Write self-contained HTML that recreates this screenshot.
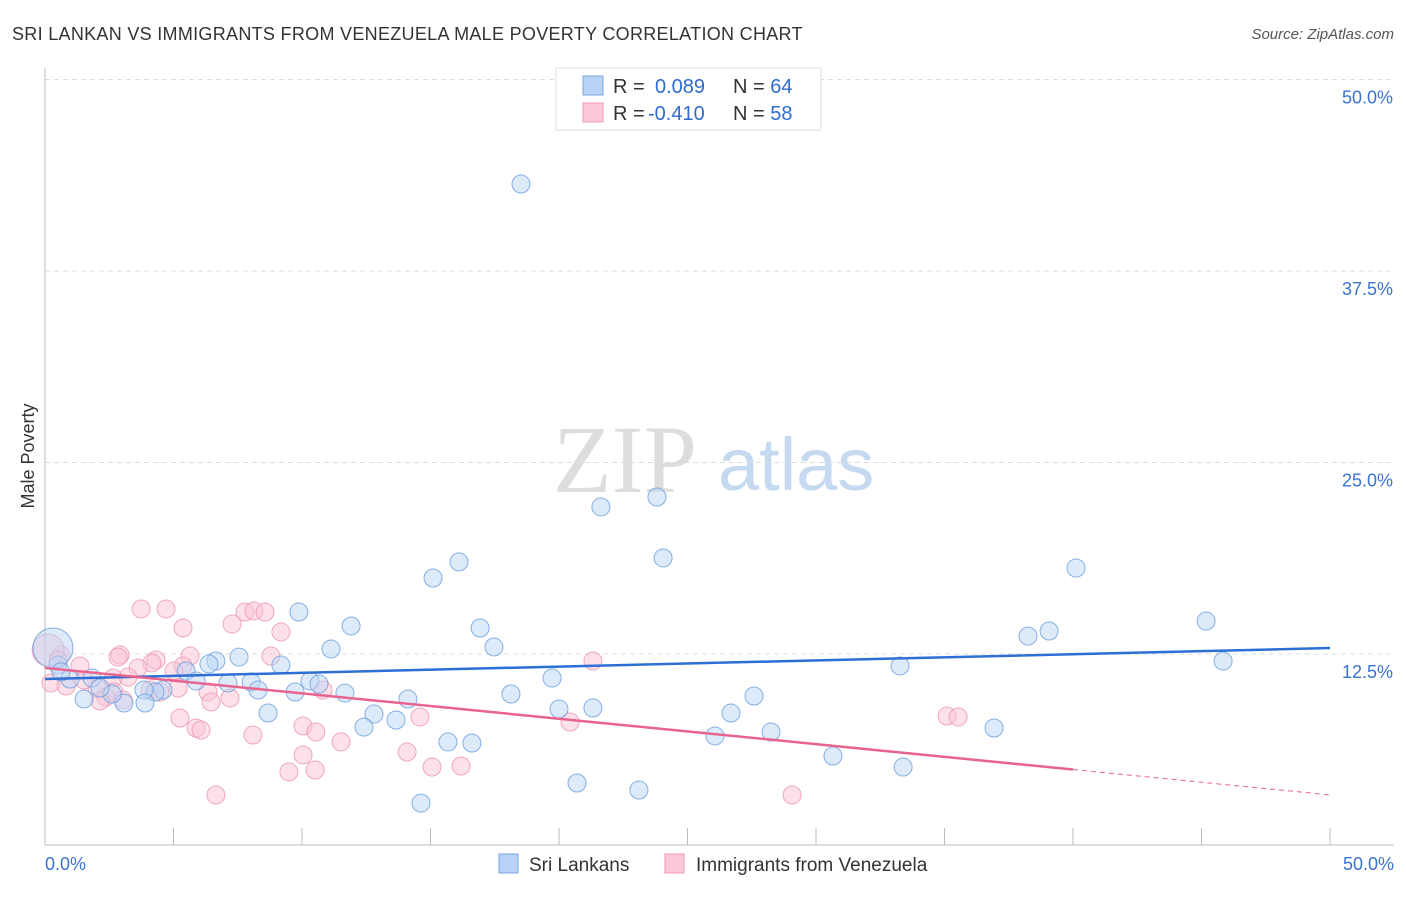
<!DOCTYPE html>
<html><head><meta charset="utf-8"><style>
body{margin:0;background:#fff;font-family:"Liberation Sans",sans-serif}
svg text{font-family:"Liberation Sans",sans-serif}
</style></head><body>
<svg width="1406" height="892" xmlns="http://www.w3.org/2000/svg">
<text x="12" y="40" font-size="18" fill="#333" letter-spacing="0.3">SRI LANKAN VS IMMIGRANTS FROM VENEZUELA MALE POVERTY CORRELATION CHART</text>
<text x="1394" y="39" font-size="15" fill="#555" font-style="italic" text-anchor="end">Source: ZipAtlas.com</text>
<text x="34" y="456" font-size="18" fill="#333" text-anchor="middle" transform="rotate(-90 34 456)">Male Poverty</text>
<g>
<text x="553" y="492" font-size="96" fill="#ddd" font-family="Liberation Serif" style="font-family:'Liberation Serif',serif">ZIP</text>
<text x="718" y="490" font-size="74" fill="#c5d9f1">atlas</text>
</g>
<g id="grid"></g><g id="axes"></g><g id="pts"></g><g id="lines"></g>
<g>
<rect x="556" y="68" width="265" height="62" fill="#fff" stroke="#ddd"/>
<rect x="583" y="76" width="20" height="19" fill="#b8d3f5" stroke="#7aa7e0"/>
<rect x="583" y="103" width="20" height="19" fill="#fcc9d8" stroke="#f09ab5"/>
<text x="613" y="93" font-size="20" fill="#333">R = <tspan fill="#2f6bd0" x="655">0.089</tspan><tspan x="733" fill="#333">N = </tspan><tspan fill="#2f6bd0">64</tspan></text>
<text x="613" y="120" font-size="20" fill="#333">R = <tspan fill="#2f6bd0" x="648">-0.410</tspan><tspan x="733" fill="#333">N = </tspan><tspan fill="#2f6bd0">58</tspan></text>
</g>
<g>
<rect x="499" y="854" width="19" height="19" fill="#b8d3f5" stroke="#7aa7e0"/>
<text x="529" y="871" font-size="19" fill="#333">Sri Lankans</text>
<rect x="665" y="854" width="19" height="19" fill="#fcc9d8" stroke="#f09ab5"/>
<text x="696" y="871" font-size="19" fill="#333">Immigrants from Venezuela</text>
</g>
</svg>
<script>
const yTicks=[12.5,25,37.5,50];
const yTickLabels=["12.5%","25.0%","37.5%","50.0%"];
const xTicks=[0,5,10,15,20,25,30,35,40,45,50];
const blueX=[18.52,21.63,23.81,24.05,16.11,15.10,40.12,45.18,45.84,39.07,38.25,9.88,11.91,16.93,17.47,11.13,7.55,6.65,6.38,5.49,9.18,8.02,7.12,8.29,9.73,10.31,10.66,11.67,14.12,12.80,12.41,13.66,8.68,18.13,19.73,20.0,21.32,27.59,26.69,26.07,28.25,33.27,36.93,30.66,33.39,20.70,23.11,14.63,15.68,16.61,4.59,4.28,3.85,3.07,3.89,2.61,1.52,0.97,1.83,0.51,0.31,0.62,2.14,5.88];
const blueY=[43.18,22.10,22.75,18.77,18.51,17.46,18.11,14.65,12.04,14.0,13.67,15.24,14.33,14.20,12.96,12.83,12.30,12.04,11.85,11.39,11.78,10.67,10.61,10.15,10.02,10.74,10.54,9.95,9.56,8.58,7.73,8.19,8.65,9.89,10.93,8.91,8.98,9.76,8.65,7.15,7.41,11.72,7.67,5.84,5.12,4.08,3.62,2.77,6.76,6.69,10.15,10.02,10.15,9.30,9.30,9.89,9.56,10.87,10.93,11.78,12.89,11.33,10.28,10.74];
const pinkX=[3.74,4.71,5.37,7.78,8.13,8.56,7.28,9.18,2.92,2.84,4.32,4.16,5.64,8.79,5.37,5.02,3.62,3.23,2.65,1.36,0.62,0.23,0.82,2.02,2.37,2.68,2.14,4.09,4.47,5.18,6.34,6.46,7.20,5.25,5.88,6.07,8.09,10.04,10.54,11.52,10.04,9.49,10.51,6.65,14.09,14.59,15.06,16.19,10.82,21.32,20.43,29.07,35.10,35.53,0.12,0.51,1.52,3.04];
const pinkY=[15.44,15.44,14.20,15.24,15.31,15.24,14.46,13.94,12.44,12.30,12.11,11.91,12.37,12.37,11.72,11.39,11.59,11.00,10.93,11.72,12.44,10.61,10.41,10.28,9.69,10.02,9.43,10.15,10.02,10.28,10.02,9.37,9.63,8.32,7.67,7.54,7.21,7.80,7.41,6.76,5.91,4.80,4.93,3.30,6.10,8.39,5.12,5.19,10.15,12.04,8.06,3.30,8.45,8.39,12.76,12.11,10.80,9.50];
const blueTrend=[10.87,12.89];
const pinkTrend=[11.59,3.30];
const pinkSolidEnd=40;
const NS="http://www.w3.org/2000/svg";
const X=v=>45+v*25.7, Y=v=>845.5-v*15.32;
function mk(t,a,p){const e=document.createElementNS(NS,t);for(const k in a)e.setAttribute(k,a[k]);document.getElementById(p).appendChild(e);return e;}
yTicks.forEach((t,i)=>{
 const l=mk('line',{x1:45,x2:1394,y1:Y(t),y2:Y(t),stroke:'#ddd','stroke-dasharray':'5,4'},'grid');
 
 
 const tx=mk('text',{x:1393,y:Y(t)+24,'font-size':18,fill:'#3b73d1','text-anchor':'end'},'grid');
 tx.textContent=yTickLabels[i];
 
 
});
let a=mk('line',{x1:45,x2:45,y1:68,y2:845,stroke:'#bbb'},'axes');


a=mk('line',{x1:45,x2:1394,y1:845,y2:845,stroke:'#bbb'},'axes');


xTicks.forEach(t=>{const l=mk('line',{x1:X(t),x2:X(t),y1:828,y2:845,stroke:'#bbb'},'axes');
 
 });
[[0,'start',45],[50,'end',1394]].forEach(([v,anc,x])=>{const t=mk('text',{x:x,y:870,'font-size':18,fill:'#3b73d1','text-anchor':anc},'axes');t.textContent=v.toFixed(1)+'%';
 
 });
function dots(xs,ys,fill,stroke,name,bigR){xs.forEach((x,i)=>{
 const big=(name==='blue-point'&&i===60)||(name==='pink-point'&&i===54);
 const c=mk('circle',{cx:X(x),cy:Y(ys[i]),r:big?bigR:9,fill:fill,'fill-opacity':0.5,stroke:stroke,'stroke-width':1,'stroke-opacity':0.8},'pts');
 
 });}
dots(pinkX,pinkY,'#fac3d3','#ee93b1','pink-point',16);
dots(blueX,blueY,'#bcd5f5','#6a9ede','blue-point',20);
let ln=mk('line',{x1:X(0),y1:Y(blueTrend[0]),x2:X(50),y2:Y(blueTrend[1]),stroke:'#2d6fd4','stroke-width':2.5},'lines');


const py=x=>pinkTrend[0]+(pinkTrend[1]-pinkTrend[0])*x/50;
ln=mk('line',{x1:X(0),y1:Y(pinkTrend[0]),x2:X(pinkSolidEnd),y2:Y(py(pinkSolidEnd)),stroke:'#e8648f','stroke-width':2.5},'lines');


ln=mk('line',{x1:X(pinkSolidEnd),y1:Y(py(pinkSolidEnd)),x2:X(50),y2:Y(pinkTrend[1]),stroke:'#e8648f','stroke-width':1,'stroke-dasharray':'5,4'},'lines');


</script>
</body></html>
